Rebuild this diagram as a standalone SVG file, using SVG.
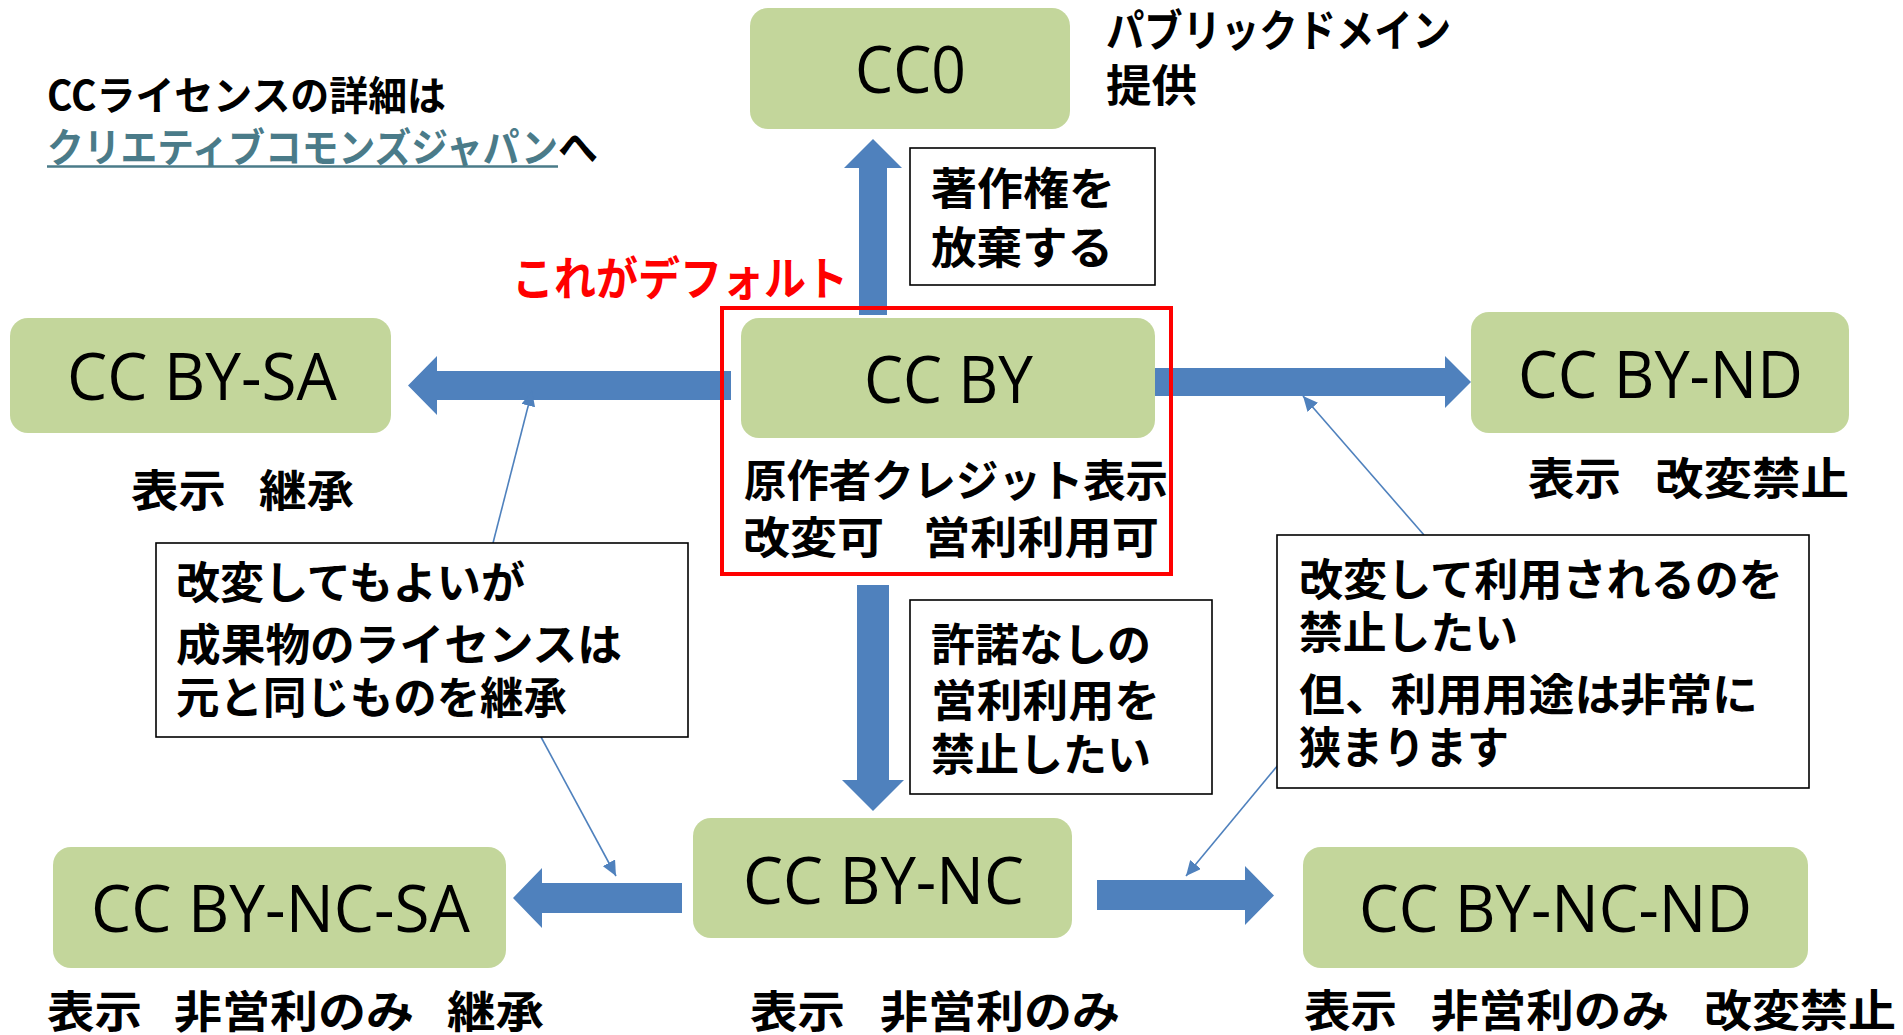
<svg xmlns="http://www.w3.org/2000/svg" width="1903" height="1035" viewBox="0 0 1903 1035">
<style>
.node{fill:#c3d69b;}
.lbl{font-family:"Open Sans","Liberation Sans",sans-serif;font-size:66px;fill:#000;text-anchor:middle;}
.jp{font-family:"Noto Sans CJK JP",sans-serif;font-weight:bold;fill:#000;}
.f44{font-size:44px;}
.f40{font-size:40px;}
.note{fill:#fff;stroke:#000;stroke-width:1.6;}
.block{fill:#4f81bd;}
.thin{fill:none;stroke:#4f81bd;stroke-width:1.6;marker-end:url(#ah);}
</style>
<defs>
<marker id="ah" viewBox="0 0 15 14" refX="15" refY="7" markerWidth="15" markerHeight="14" markerUnits="userSpaceOnUse" orient="auto">
<path d="M0,0 L15,7 L0,14 Z" fill="#4f81bd"/>
</marker>
</defs>
<rect width="1903" height="1035" fill="#fff"/>

<g id="connectors">
<polygon class="block" points="859,315 859,168 844,168 873,139 902,168 887,168 887,315"/>
<polygon class="block" points="731,371 437,371 437,356 408,385.5 437,415 437,400 731,400"/>
<polygon class="block" points="1147,368 1445,368 1445,356 1471,382 1445,408 1445,396 1147,396"/>
<polygon class="block" points="857,585 889,585 889,780 904,780 873,811 842,780 857,780"/>
<polygon class="block" points="682,883 542,883 542,868 513,898 542,928 542,913 682,913"/>
<polygon class="block" points="1097,880 1245,880 1245,866 1274,895.5 1245,925 1245,910 1097,910"/>
<line class="thin" x1="493" y1="543" x2="532" y2="391"/>
<line class="thin" x1="541" y1="737" x2="616" y2="876"/>
<line class="thin" x1="1424" y1="535" x2="1303" y2="396"/>
<line class="thin" x1="1283" y1="759" x2="1186" y2="876"/>
</g>

<g id="title">
<text class="jp f40" x="47" y="110" textLength="399" lengthAdjust="spacingAndGlyphs">CCライセンスの詳細は</text>
<text class="jp f40" x="47" y="162" textLength="511" lengthAdjust="spacingAndGlyphs" style="fill:#4a7b89">クリエティブコモンズジャパン</text>
<line x1="47" y1="166.5" x2="558" y2="166.5" stroke="#4a7b89" stroke-width="2.5"/>
<text class="jp f40" x="558" y="162">へ</text>
</g>

<g id="cc0">
<rect class="node" x="750" y="8" width="320" height="121" rx="18"/>
<text class="lbl" x="910.5" y="93" textLength="111" lengthAdjust="spacingAndGlyphs">CC0</text>
<text class="jp f44" x="1106" y="47" textLength="345" lengthAdjust="spacingAndGlyphs">パブリックドメイン</text>
<text class="jp f44" x="1106" y="102" textLength="91" lengthAdjust="spacingAndGlyphs">提供</text>
</g>

<g id="note-cc0">
<rect class="note" x="910" y="148" width="245" height="137"/>
<text class="jp f44" x="931" y="205" textLength="184" lengthAdjust="spacingAndGlyphs">著作権を</text>
<text class="jp f44" x="931" y="264" textLength="182" lengthAdjust="spacingAndGlyphs">放棄する</text>
</g>

<g id="default-label">
<text class="jp" x="512" y="295" font-size="46" textLength="336" lengthAdjust="spacingAndGlyphs" style="fill:#ff0000">これがデフォルト</text>
</g>

<g id="ccby">
<rect class="node" x="741" y="318" width="414" height="120" rx="18"/>
<text class="lbl" x="948.5" y="403" textLength="169" lengthAdjust="spacingAndGlyphs">CC BY</text>
<text class="jp f44" x="744" y="497" textLength="424" lengthAdjust="spacingAndGlyphs">原作者クレジット表示</text>
<text class="jp f44" x="743" y="554" textLength="141" lengthAdjust="spacingAndGlyphs">改変可</text>
<text class="jp f44" x="923" y="554" textLength="236" lengthAdjust="spacingAndGlyphs">営利利用可</text>
<rect x="722" y="308" width="449" height="266" fill="none" stroke="#ff0000" stroke-width="4"/>
</g>

<g id="ccby-sa">
<rect class="node" x="10" y="318" width="381" height="115" rx="18"/>
<text class="lbl" x="202" y="400" textLength="270" lengthAdjust="spacingAndGlyphs">CC BY-SA</text>
<text class="jp f44" x="131" y="507" textLength="95" lengthAdjust="spacingAndGlyphs">表示</text>
<text class="jp f44" x="259" y="507" textLength="95" lengthAdjust="spacingAndGlyphs">継承</text>
</g>

<g id="ccby-nd">
<rect class="node" x="1471" y="312" width="378" height="121" rx="18"/>
<text class="lbl" x="1660.5" y="398" textLength="285" lengthAdjust="spacingAndGlyphs">CC BY-ND</text>
<text class="jp f44" x="1528" y="495" textLength="93" lengthAdjust="spacingAndGlyphs">表示</text>
<text class="jp f44" x="1655" y="495" textLength="194" lengthAdjust="spacingAndGlyphs">改変禁止</text>
</g>

<g id="note-sa">
<rect class="note" x="156" y="543" width="532" height="194"/>
<text class="jp f44" x="176" y="599" textLength="349" lengthAdjust="spacingAndGlyphs">改変してもよいが</text>
<text class="jp f44" x="176" y="661" textLength="446" lengthAdjust="spacingAndGlyphs">成果物のライセンスは</text>
<text class="jp f44" x="176" y="714" textLength="391" lengthAdjust="spacingAndGlyphs">元と同じものを継承</text>
</g>

<g id="note-nc">
<rect class="note" x="910" y="600" width="302" height="194"/>
<text class="jp f44" x="931" y="661" textLength="220" lengthAdjust="spacingAndGlyphs">許諾なしの</text>
<text class="jp f44" x="931" y="717" textLength="229" lengthAdjust="spacingAndGlyphs">営利利用を</text>
<text class="jp f44" x="931" y="771" textLength="220" lengthAdjust="spacingAndGlyphs">禁止したい</text>
</g>

<g id="note-nd">
<rect class="note" x="1277" y="535" width="532" height="253"/>
<text class="jp f44" x="1299" y="596" textLength="484" lengthAdjust="spacingAndGlyphs">改変して利用されるのを</text>
<text class="jp f44" x="1299" y="649" textLength="219" lengthAdjust="spacingAndGlyphs">禁止したい</text>
<text class="jp f44" x="1299" y="711" textLength="459" lengthAdjust="spacingAndGlyphs">但、利用用途は非常に</text>
<text class="jp f44" x="1299" y="764" textLength="210" lengthAdjust="spacingAndGlyphs">狭まります</text>
</g>

<g id="ccby-nc">
<rect class="node" x="693" y="818" width="379" height="120" rx="18"/>
<text class="lbl" x="883.5" y="904" textLength="281" lengthAdjust="spacingAndGlyphs">CC BY-NC</text>
<text class="jp f44" x="750" y="1028" textLength="95" lengthAdjust="spacingAndGlyphs">表示</text>
<text class="jp f44" x="880" y="1028" textLength="240" lengthAdjust="spacingAndGlyphs">非営利のみ</text>
</g>

<g id="ccby-nc-sa">
<rect class="node" x="53" y="847" width="453" height="121" rx="18"/>
<text class="lbl" x="280.5" y="932" textLength="379" lengthAdjust="spacingAndGlyphs">CC BY-NC-SA</text>
<text class="jp f44" x="47" y="1028" textLength="95" lengthAdjust="spacingAndGlyphs">表示</text>
<text class="jp f44" x="174" y="1028" textLength="240" lengthAdjust="spacingAndGlyphs">非営利のみ</text>
<text class="jp f44" x="447" y="1028" textLength="97" lengthAdjust="spacingAndGlyphs">継承</text>
</g>

<g id="ccby-nc-nd">
<rect class="node" x="1303" y="847" width="505" height="121" rx="18"/>
<text class="lbl" x="1555.5" y="932" textLength="393" lengthAdjust="spacingAndGlyphs">CC BY-NC-ND</text>
<text class="jp f44" x="1304" y="1027" textLength="93" lengthAdjust="spacingAndGlyphs">表示</text>
<text class="jp f44" x="1431" y="1027" textLength="238" lengthAdjust="spacingAndGlyphs">非営利のみ</text>
<text class="jp f44" x="1704" y="1027" textLength="192" lengthAdjust="spacingAndGlyphs">改変禁止</text>
</g>
</svg>
